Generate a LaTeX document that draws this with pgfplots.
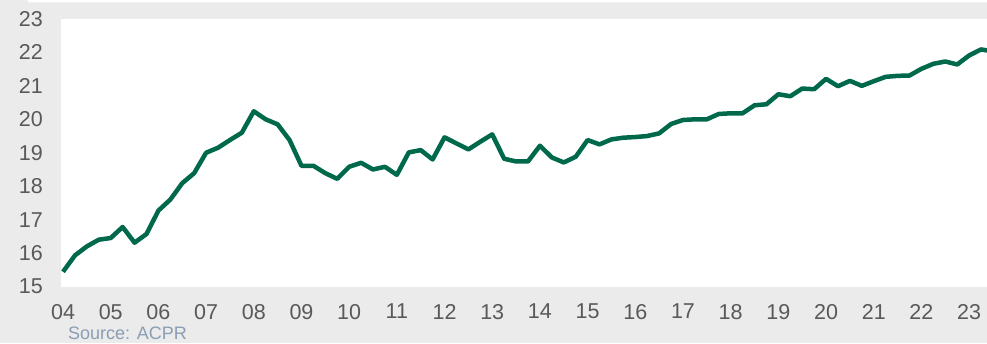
\documentclass[border=0pt]{standalone}
\usepackage{fontspec}
\setmainfont{Liberation Sans}
\usepackage{pgfplots}
\pgfplotsset{compat=1.18}
\definecolor{bggray}{HTML}{EBEBEB}
\definecolor{lblgray}{HTML}{595959}
\definecolor{linegreen}{HTML}{00694B}
\definecolor{srcblue}{HTML}{8A9DB5}
\begin{document}
\begin{tikzpicture}[x=1pt,y=1pt]
\clip (0,0) rectangle (987,343);
\fill[bggray] (0,0) rectangle (987,343);
\fill[white, rounded corners=3pt] (27,340.5) rectangle (995,350);
\begin{axis}[
  at={(61pt,56.5pt)}, anchor=south west,
  scale only axis, width=926pt, height=267.5pt,
  xmin=-0.17, xmax=77.5, ymin=15, ymax=23,
  axis background/.style={fill=white},
  axis line style={draw=none},
  major tick length=0pt,
  xtick={0,4,...,76},
  xticklabels={04,05,06,07,08,09,10,11,12,13,14,15,16,17,18,19,20,21,22,23},
  ytick={15,16,...,23},
  /pgf/number format/assume math mode=true,
  ticklabel style={font=\fontsize{21.5}{25}\selectfont, text=lblgray, inner sep=0pt},
  xticklabel style={anchor=north},
  yticklabel style={anchor=east},
  xticklabel shift=17.5pt,
  yticklabel shift=18pt,
  clip=true,
]
\addplot[linegreen, line width=4.5pt, line join=round] coordinates {
(0,15.44) (1,15.93) (2,16.2) (3,16.4) (4,16.45) (5,16.78) (6,16.31) (7,16.57)
(8,17.27) (9,17.6) (10,18.09) (11,18.39) (12,19.0) (13,19.15) (14,19.38) (15,19.6)
(16,20.24) (17,20.0) (18,19.85) (19,19.38) (20,18.61) (21,18.61) (22,18.39) (23,18.22)
(24,18.58) (25,18.7) (26,18.5) (27,18.58) (28,18.34) (29,19.01) (30,19.08) (31,18.8)
(32,19.46) (33,19.28) (34,19.1) (35,19.33) (36,19.55) (37,18.82) (38,18.74) (39,18.74)
(40,19.21) (41,18.86) (42,18.71) (43,18.88) (44,19.38) (45,19.25) (46,19.4) (47,19.45)
(48,19.47) (49,19.5) (50,19.58) (51,19.86) (52,19.98) (53,20.0) (54,20.0) (55,20.16)
(56,20.18) (57,20.18) (58,20.42) (59,20.45) (60,20.75) (61,20.69) (62,20.92) (63,20.9)
(64,21.21) (65,20.99) (66,21.15) (67,21.0) (68,21.14) (69,21.27) (70,21.3) (71,21.31)
(72,21.51) (73,21.66) (74,21.73) (75,21.64) (76,21.91) (77,22.09) (78,22.03)
};
\end{axis}
\node[anchor=base west, inner sep=0pt, text=srcblue, font=\fontsize{18}{22}\selectfont] at (68,3.4) {Source: ACPR};
\end{tikzpicture}
\end{document}
